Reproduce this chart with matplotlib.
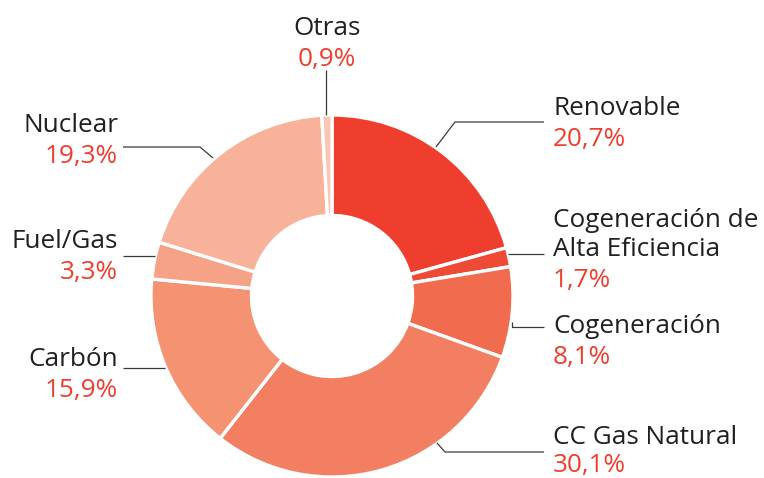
import matplotlib
matplotlib.use('Agg')
import matplotlib.pyplot as plt

# data
labels = ['Renovable', 'Cogeneración de\nAlta Eficiencia', 'Cogeneración', 'CC Gas Natural',
          'Carbón', 'Fuel/Gas', 'Nuclear', 'Otras']
values = [20.7, 1.7, 8.1, 30.1, 15.9, 3.3, 19.3, 0.9]
colors = ['#EF3E2E', '#EF4A35', '#F16C4F', '#F27F61', '#F49272', '#F5A286', '#F8B299', '#FAC6B3']

W, H = 764, 478
plt.rcParams['font.family'] = ['Open Sans', 'DejaVu Sans']

fig = plt.figure(figsize=(W / 100, H / 100), dpi=100)
ax = fig.add_axes([0, 0, 1, 1])
ax.set_xlim(0, W)
ax.set_ylim(0, H)
ax.axis('off')


def fy(y):
    # pixel row -> data y
    return H - y


cx, cy, R = 332, 296, 181
ax.pie(values, colors=colors, startangle=90, counterclock=False, center=(cx, fy(cy)), radius=R,
       wedgeprops=dict(width=R * 0.555, edgecolor='white', linewidth=2.4))
ax.set_aspect('equal')
ax.set_xlim(0, W)
ax.set_ylim(0, H)

dark = '#231F20'
red = '#EF3E2E'
fs = 18.8
line_col = '#3a3a3a'


def pct(v):
    return '{:.1f}%'.format(v).replace('.', ',')


def label(x, baselines, lines, ha, gap=31):
    for yb, t in zip(baselines, lines):
        ax.text(x, fy(yb), t, ha=ha, va='baseline', fontsize=fs, color=dark)
    ax.text(x, fy(baselines[-1] + gap), pct(values[labels.index('\n'.join(lines))]), ha=ha,
            va='baseline', fontsize=fs, color=red)


def leader(pts):
    xs = [p[0] for p in pts]
    ys = [fy(p[1]) for p in pts]
    ax.plot(xs, ys, color=line_col, lw=0.9, solid_capstyle='butt')


# right side
label(553, [115], ['Renovable'], 'left')
leader([(436, 147), (455, 122), (544, 122)])

label(553, [227, 256], ['Cogeneración de', 'Alta Eficiencia'], 'left')
leader([(508, 254), (544, 254)])

label(553, [333], ['Cogeneración'], 'left')
leader([(512, 322), (512, 327), (544, 327)])

label(553, [444], ['CC Gas Natural'], 'left', gap=28)
leader([(437, 443), (445, 452), (544, 452)])

# left side
label(118, [132], ['Nuclear'], 'right')
leader([(213, 158), (200, 147), (123, 147)])

label(118, [248], ['Fuel/Gas'], 'right')
leader([(155, 256), (123, 256)])

label(118, [366], ['Carbón'], 'right')
leader([(165, 368), (123, 368)])

# top
label(327, [35], ['Otras'], 'center')
leader([(326, 115), (326, 70)])

fig.savefig('out.png', dpi=100)
